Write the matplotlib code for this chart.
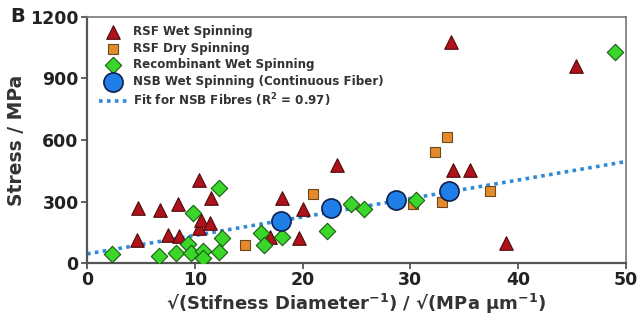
import matplotlib
matplotlib.use("Agg")
import matplotlib.pyplot as plt
import numpy as np

plt.rcParams['font.family'] = ['DejaVu Sans']
plt.rcParams['font.weight'] = 'bold'
plt.rcParams['mathtext.default'] = 'bf'

# RSF wet spinning (red triangles)
rsf_wet_x = [4.6, 4.7, 6.8, 7.5, 8.4, 8.5, 10.4, 10.4, 10.6, 11.4, 11.5,
             17.0, 18.1, 19.7, 20.0, 23.2, 33.8, 34.0, 35.5, 38.9, 45.4]
rsf_wet_y = [112, 268, 259, 137, 288, 132, 405, 170, 210, 195, 317,
             127, 317, 122, 265, 478, 1078, 454, 454, 98, 961]

# RSF dry spinning (orange squares)
rsf_dry_x = [14.7, 21.0, 30.2, 32.3, 32.9, 33.4, 37.4]
rsf_dry_y = [88, 337, 290, 541, 298, 615, 351]

# Recombinant wet spinning (green diamonds)
recomb_x = [2.3, 6.7, 8.3, 9.4, 9.6, 9.8, 10.8, 10.8, 12.2, 12.2, 12.5,
            16.1, 16.4, 18.1, 22.3, 24.5, 25.7, 30.5, 49.0]
recomb_y = [46, 34, 49, 93, 49, 246, 61, 24, 52, 368, 122,
            148, 88, 127, 156, 288, 263, 307, 1029]

# NSB wet spinning (blue circles)
nsb_x = [18.0, 22.6, 28.7, 33.6]
nsb_y = [203, 268, 307, 353]

# fit for NSB fibres: slope, intercept
fit_coef = [9.0, 45.0]

fig = plt.figure(figsize=(6.4, 3.31), dpi=100)
ax = fig.add_axes([0.136, 0.205, 0.842, 0.744])

ax.scatter(rsf_wet_x, rsf_wet_y, marker='^', s=95, c='#b0121c',
           edgecolors='#4a0a0a', linewidths=0.8, zorder=3, label='RSF Wet Spinning')
ax.scatter(rsf_dry_x, rsf_dry_y, marker='s', s=55, c='#e38b2c',
           edgecolors='#6b4a1e', linewidths=0.8, zorder=4, label='RSF Dry Spinning')
ax.scatter(recomb_x, recomb_y, marker='D', s=70, c='#3ad62a',
           edgecolors='#1d5a14', linewidths=0.8, zorder=5, label='Recombinant Wet Spinning')
ax.scatter(nsb_x, nsb_y, marker='o', s=190, c='#1f7fe6',
           edgecolors='#0e1f4f', linewidths=1.2, zorder=6,
           label='NSB Wet Spinning (Continuous Fiber)')

fx = np.linspace(0, 50, 50)
ax.plot(fx, np.polyval(fit_coef, fx), ls=(0, (1, 1.2)), lw=2.6, color='#2f8ad8',
        zorder=2, label='Fit for NSB Fibres (R$^{2}$ = 0.97)')

ax.set_xlim(0, 50)
ax.set_ylim(0, 1200)
ax.set_xticks([0, 10, 20, 30, 40, 50])
ax.set_yticks([0, 300, 600, 900, 1200])
ax.tick_params(labelsize=12.5, length=4, width=1.3, color='#555555', pad=2)
for lab in ax.get_xticklabels() + ax.get_yticklabels():
    lab.set_fontweight('bold')
    lab.set_color('#222222')

for side in ['left', 'bottom']:
    ax.spines[side].set_linewidth(1.6)
    ax.spines[side].set_color('#555555')
for side in ['top', 'right']:
    ax.spines[side].set_linewidth(1.2)
    ax.spines[side].set_color('#777777')

ax.set_ylabel('Stress / MPa', fontsize=13.5, fontweight='bold', color='#333333', labelpad=3)
ax.set_xlabel('\u221a(Stifness Diameter$^{-1}$) / \u221a(MPa \u00b5m$^{-1}$)',
              fontsize=13, fontweight='bold', color='#333333', labelpad=2)

fig.text(0.016, 0.95, 'B', fontsize=14, fontweight='bold', va='center', color='#222222')

leg = ax.legend(loc='upper left', frameon=False, fontsize=8.6, handletextpad=0.5,
                labelspacing=0.3, borderaxespad=0.2, handlelength=2.4,
                bbox_to_anchor=(0.008, 0.995))
for t in leg.get_texts():
    t.set_fontweight('bold')
    t.set_color('#333333')

fig.savefig('out.png', dpi=100)
